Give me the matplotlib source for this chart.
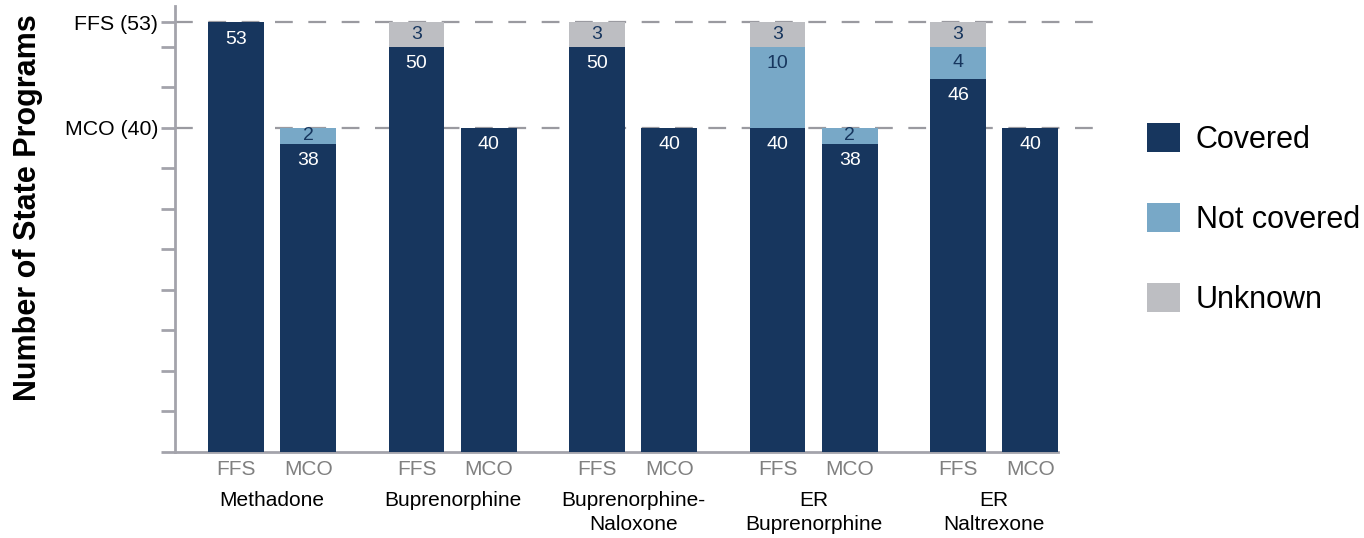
import matplotlib
matplotlib.use("Agg")
import matplotlib.pyplot as plt
import matplotlib.transforms as mtransforms
from matplotlib.patches import Patch
import numpy as np

plt.rcParams['font.family'] = ['Liberation Sans', 'DejaVu Sans']

drugs = ["Methadone", "Buprenorphine", "Buprenorphine-\nNaloxone",
         "ER\nBuprenorphine", "ER\nNaltrexone"]
programs = ["FFS", "MCO"]
# values per bar, order: drug0 FFS, drug0 MCO, drug1 FFS, ...
covered     = [53, 38, 50, 40, 50, 40, 40, 38, 46, 40]
not_covered = [0, 2, 0, 0, 0, 0, 10, 2, 4, 0]
unknown     = [0, 0, 3, 0, 3, 0, 3, 0, 3, 0]
ref_values = [53, 40]
ref_labels = ["FFS (53)", "MCO (40)"]
series_names = ["Covered", "Not covered", "Unknown"]

c_cov = "#17365E"
c_not = "#78A8C7"
c_unk = "#BDBEC2"
axis_grey = "#A3A3AB"

fig = plt.figure(figsize=(13.64, 5.38), dpi=100)
ax = fig.add_axes([175/1364, 1-451.7/538, 883/1364, (451.7-6)/538])

n = len(drugs)
xs = []
for i in range(n):
    xs += [i - 0.2, i + 0.2]
xs = np.array(xs)
w = 0.31

cov = np.array(covered); notc = np.array(not_covered); unk = np.array(unknown)
ax.bar(xs, cov, width=w, color=c_cov, zorder=3)
ax.bar(xs, notc, width=w, bottom=cov, color=c_not, zorder=3)
ax.bar(xs, unk, width=w, bottom=cov + notc, color=c_unk, zorder=3)

def label(x, bottom, h, color):
    if h <= 0:
        return
    top = bottom + h
    y = top - min(2.1, h / 2.0)
    ax.text(x, y, str(h), ha='center', va='center', fontsize=14,
            color=color, zorder=5)

for x, c, nc, u in zip(xs, cov, notc, unk):
    label(x, 0, c, "white")
    label(x, c, nc, c_cov)
    label(x, c + nc, u, c_cov)

# reference dashed lines
trans = ax.get_yaxis_transform()
for v in ref_values:
    ax.plot([0, 1.052], [v, v], transform=trans, color="#9A9AA0", lw=1.6,
            dashes=(8, 7), clip_on=False, zorder=1)

ax.set_xlim(-0.538, 4.354)
ax.set_ylim(0, 55)

for s in ['top', 'right']:
    ax.spines[s].set_visible(False)
for s in ['left', 'bottom']:
    ax.spines[s].set_color(axis_grey)
    ax.spines[s].set_linewidth(2)

yt = list(range(0, 51, 5)) + [53]
ax.set_yticks(yt)
ylabels = []
for t in yt:
    if t in ref_values:
        ylabels.append(ref_labels[ref_values.index(t)])
    else:
        ylabels.append("")
ax.set_yticklabels(ylabels, fontsize=15.3, color="black")
ax.tick_params(axis='y', length=10, width=2, color=axis_grey, pad=2)

ax.set_xticks(xs)
ax.set_xticklabels(programs * n, fontsize=15, color="#808080")
ax.tick_params(axis='x', length=0, pad=6)

tb = mtransforms.blended_transform_factory(ax.transData, ax.transAxes)
for i, d in enumerate(drugs):
    ax.text(i, -0.089, d, transform=tb, ha='center', va='top', fontsize=15,
            color="black", linespacing=1.3)

ax.set_ylabel("Number of State Programs", fontsize=22, fontweight='bold')
ax.yaxis.set_label_coords(-0.1495, (451.7 - 208) / (451.7 - 6))

handles = [Patch(facecolor=c_cov), Patch(facecolor=c_not), Patch(facecolor=c_unk)]
leg = fig.legend(handles, series_names, loc='upper left',
                 bbox_to_anchor=(1119/1364, 1 - 95/538), frameon=False,
                 fontsize=22, handlelength=1.11, handleheight=1.11,
                 labelspacing=1.57, handletextpad=0.5)

fig.savefig("out.png", dpi=100)
